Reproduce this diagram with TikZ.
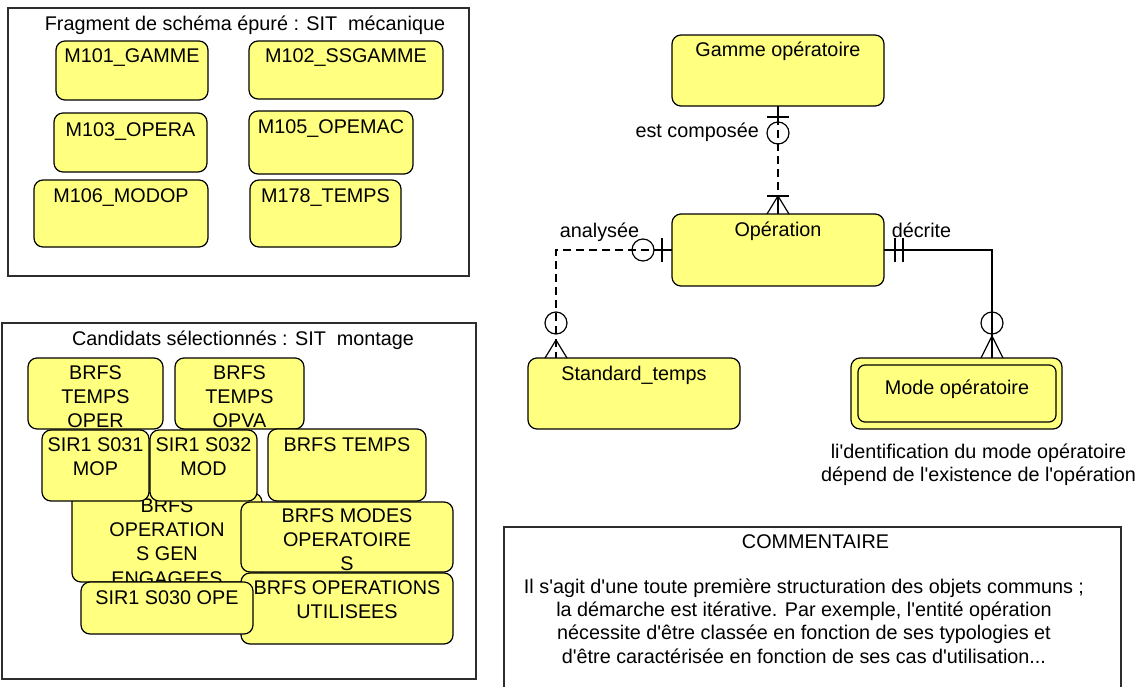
\documentclass[tikz,border=0pt]{standalone}
\usepackage{fontspec}
\setmainfont{Liberation Sans}[Ligatures=TeXOff]
\usetikzlibrary{calc}
\definecolor{boxyellow}{RGB}{255,255,128}
\definecolor{framegray}{RGB}{45,45,45}
\tikzset{
  ybox/.style={draw=black, fill=boxyellow, line width=1.2pt, rounded corners=9pt, inner sep=0pt, outer sep=0pt},
  btext/.style={anchor=north, inner sep=0pt, align=center, font=\fontsize{19.8}{24.3}\selectfont},
  lbl/.style={inner sep=0pt, font=\fontsize{19.8}{24}\selectfont},
  frame/.style={draw=framegray, line width=1.4pt, inner sep=0pt, outer sep=0pt},
  ln/.style={line width=1.2pt, draw=black},
  dashln/.style={ln, dash pattern=on 8pt off 5pt},
  ring/.style={circle, draw=black, line width=1.2pt, minimum size=22pt, inner sep=0pt},
}
% name, x1, y1, x2, y2, first baseline, text
\newcommand\yb[7]{%
  \node[ybox, anchor=north west, minimum width=#4-#2, minimum height=#5-#3] (#1) at (#2,#3) {};
  \node[btext] (#1-t) at ($(#1.north)+(0,#6-#3-15)$) {\rule{0pt}{15pt}#7};
}
\begin{document}
\begin{tikzpicture}[x=1pt,y=-1pt]
\useasboundingbox (0,0) rectangle (1141,686);
\fill[white] (0,0) rectangle (1141,686);

% ---------- top-left frame ----------
\node[frame, anchor=north west, minimum width=461, minimum height=268] (f1) at (8,8) {};
\node[btext] (f1-t) at (245,15) {\rule{0pt}{15pt}Fragment de schéma épuré : SIT~~mécanique};
\yb{m101}{56}{41}{208}{100}{62}{M101\_GAMME}
\yb{m102}{249}{41}{443}{99}{62}{M102\_SSGAMME}
\yb{m103}{54}{113}{207}{172}{136}{M103\_OPERA}
\yb{m105}{249}{111}{413}{174}{133}{M105\_OPEMAC}
\yb{m106}{34}{180}{208}{247}{202}{M106\_MODOP}
\yb{m178}{250}{180}{401}{247}{202}{M178\_TEMPS}

% ---------- bottom-left frame ----------
\node[frame, anchor=north west, minimum width=474, minimum height=356] (f2) at (2,323) {};
\node[btext] (f2-t) at (243,330) {\rule{0pt}{15pt}Candidats sélectionnés : SIT~~montage};
\yb{oper}{28}{358}{163}{429}{379}{BRFS\\TEMPS\\OPER}
\yb{opva}{175}{358}{304}{429}{379}{BRFS\\TEMPS\\OPVA}
\yb{gen}{72}{493}{262}{582}{512}{BRFS\\OPERATION\\S GEN\\ENGAGEES}
\yb{s031}{42}{430}{149}{501}{451}{SIR1 S031\\MOP}
\yb{s032}{150}{430}{257}{501}{451}{SIR1 S032\\MOD}
\yb{temps}{268}{429}{426}{501}{451}{BRFS TEMPS}
\yb{modes}{241}{502}{453}{572}{522}{BRFS MODES\\OPERATOIRE\\S}
\yb{util}{241}{573}{453}{644}{594}{BRFS OPERATIONS\\UTILISEES}
\yb{s030}{81}{582}{253}{634}{604}{SIR1 S030 OPE}

% ---------- entity diagram ----------
\yb{G}{672}{35}{884}{106}{56}{Gamme opératoire}
\yb{O}{672}{214}{884}{286}{236}{Opération}
\yb{S}{528}{358}{740}{429}{380}{Standard\_temps}
\node[ybox, anchor=north west, minimum width=211, minimum height=71] (M) at (851,358) {};
\begin{scope}[ybox/.append style={rounded corners=7pt}]
\yb{Mi}{858}{365}{1056}{422}{394}{Mode opératoire}
\end{scope}

% Gamme -- Operation : est composee
\coordinate (g1) at ($(G.south)+(0,11)$);
\coordinate (o1) at ($(O.north)+(0,-18)$);
\draw[ln] (G.south) -- (g1);
\draw[dashln] (g1) -- (o1);
\draw[ln] (o1) -- (O.north);
\draw[ln] ($(g1)+(-11,0)$) -- ($(g1)+(11,0)$);
\node[ring] (r1) at ($(g1)+(0,16)$) {};
\draw[ln] ($(o1)+(-11,0)$) -- ($(o1)+(11,0)$);
\draw[ln] ($(O.north)+(-11,0)$) -- (o1) -- ($(O.north)+(11,0)$);
\node[lbl, anchor=base east] (lc) at (759,137) {est composée};

% Operation -- Standard_temps : analysee
\coordinate (a1) at ($(O.west)+(-10,0)$);
\coordinate (a3) at ($(S.north west)+(28,0)$);
\coordinate (a4) at ($(a3)+(0,-18)$);
\draw[ln] (O.west) -- (a1);
\draw[ln] ($(a1)+(0,-12)$) -- ($(a1)+(0,12)$);
\node[ring] (r2) at ($(a1)+(-19,0)$) {};
\draw[dashln] (a1) -- (a3 |- a1) -- (a3);
\node[ring] (r3) at ($(a3)+(0,-35)$) {};
\draw[ln] ($(a3)+(-11,0)$) -- (a4) -- ($(a3)+(11,0)$);
\node[lbl, anchor=base] (la) at (599.5,237) {analysée};

% Operation -- Mode operatoire : decrite
\coordinate (d3) at ($(M.north west)+(141,0)$);
\coordinate (d4) at ($(d3)+(0,-22)$);
\draw[ln] (O.east) -- (d3 |- O.east) -- (d3);
\draw[ln] ($(O.east)+(11,-12)$) -- ($(O.east)+(11,12)$);
\draw[ln] ($(O.east)+(19,-12)$) -- ($(O.east)+(19,12)$);
\node[ring] (r4) at ($(d3)+(0,-35)$) {};
\draw[ln] ($(d3)+(-11,0)$) -- (d4) -- ($(d3)+(11,0)$);
\node[lbl, anchor=base] (ld) at (921.5,237) {décrite};

\node[btext, font=\fontsize{19.8}{23.3}\selectfont] (mnote) at (978.5,443) {\rule{0pt}{15pt}li'dentification du mode opératoire\\dépend de l'existence de l'opération};

% ---------- comment ----------
\node[frame, anchor=north west, minimum width=617, minimum height=175] (cm) at (504,527) {};
\node[btext] (cm-t) at (815.5,533) {\rule{0pt}{15pt}COMMENTAIRE};
\node[btext, font=\fontsize{19.8}{23.3}\selectfont] (cm-p) at (804,578) {\rule{0pt}{15pt}Il s'agit d'une toute première structuration des objets communs ;\\la démarche est itérative. Par exemple, l'entité opération\\nécessite d'être classée en fonction de ses typologies et\\d'être caractérisée en fonction de ses cas d'utilisation...};
\end{tikzpicture}
\end{document}
